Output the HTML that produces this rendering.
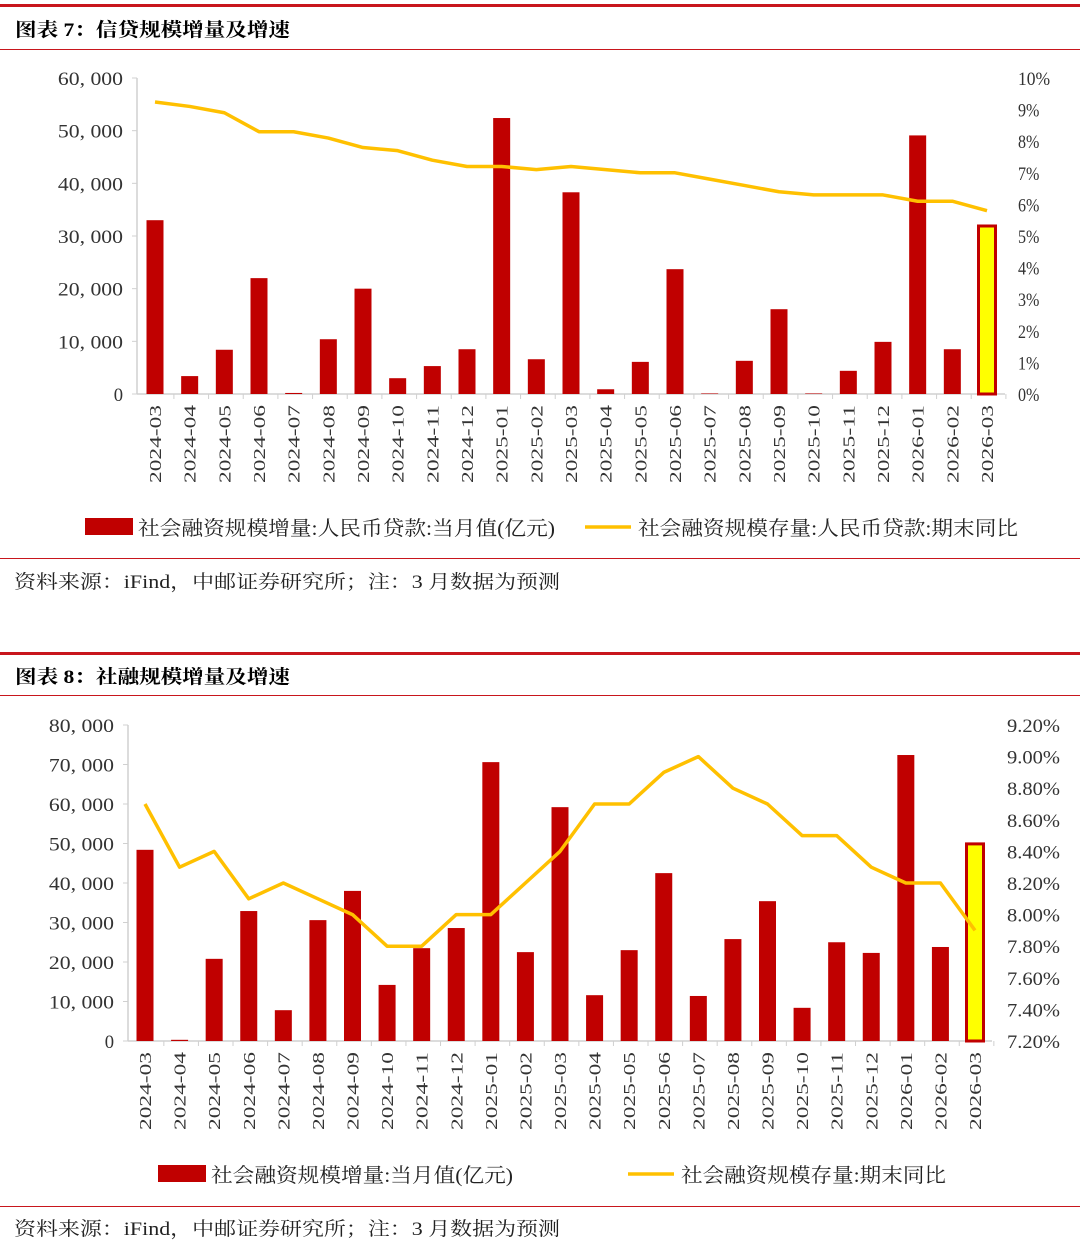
<!DOCTYPE html>
<html><head><meta charset="utf-8"><style>
body{margin:0;background:#fff;width:1080px;height:1250px;overflow:hidden}
svg{display:block}
</style></head><body>
<svg id="s" width="1080" height="1250" xmlns="http://www.w3.org/2000/svg" font-family="'Liberation Serif','Noto Serif CJK SC',serif">
<rect x="0" y="4" width="1080" height="3" fill="#c8161d"/>
<text x="15" y="36" font-size="19" font-weight="bold" textLength="275" lengthAdjust="spacingAndGlyphs" font-family="'Liberation Serif','Noto Serif CJK SC',serif">图表 7：信贷规模增量及增速</text>
<rect x="0" y="49" width="1080" height="1" fill="#c8161d"/>
<rect x="0" y="558" width="1080" height="1" fill="#c8161d"/>
<text x="14" y="588" font-size="19" textLength="546" lengthAdjust="spacingAndGlyphs" font-family="'Liberation Serif','Noto Serif CJK SC',serif" fill="#222">资料来源：iFind，中邮证券研究所；注：3 月数据为预测</text>
<rect x="0" y="652" width="1080" height="3" fill="#c8161d"/>
<text x="15" y="683" font-size="19" font-weight="bold" textLength="275" lengthAdjust="spacingAndGlyphs" font-family="'Liberation Serif','Noto Serif CJK SC',serif">图表 8：社融规模增量及增速</text>
<rect x="0" y="695" width="1080" height="1" fill="#c8161d"/>
<rect x="0" y="1206" width="1080" height="1" fill="#c8161d"/>
<text x="14" y="1235" font-size="19" textLength="546" lengthAdjust="spacingAndGlyphs" font-family="'Liberation Serif','Noto Serif CJK SC',serif" fill="#222">资料来源：iFind，中邮证券研究所；注：3 月数据为预测</text>
<g id="c1"></g><g id="c2"></g>
</svg>
<script>
const cats=["2024-03","2024-04","2024-05","2024-06","2024-07","2024-08","2024-09","2024-10","2024-11","2024-12","2025-01","2025-02","2025-03","2025-04","2025-05","2025-06","2025-07","2025-08","2025-09","2025-10","2025-11","2025-12","2026-01","2026-02","2026-03"];
const loanBars=[33000,3400,8400,22000,200,10400,20000,3000,5300,8500,52400,6600,38300,900,6100,23700,100,6300,16100,100,4400,9900,49100,8500,31900];
const loanYoY=[9.24,9.1,8.9,8.3,8.3,8.1,7.8,7.7,7.4,7.2,7.2,7.1,7.2,7.1,7.0,7.0,6.8,6.6,6.4,6.3,6.3,6.3,6.1,6.1,5.8];
const tsfBars=[48400,300,20800,32900,7800,30600,38000,14200,23500,28600,70600,22500,59200,11600,23000,42500,11400,25800,35400,8400,25000,22300,72400,23800,49900];
const tsfYoY=[8.7,8.3,8.4,8.1,8.2,8.1,8.0,7.8,7.8,8.0,8.0,8.2,8.4,8.7,8.7,8.9,9.0,8.8,8.7,8.5,8.5,8.3,8.2,8.2,7.9];
const leftTicks1=[0,10000,20000,30000,40000,50000,60000];
const rightTicks1=[0,1,2,3,4,5,6,7,8,9,10];
const leftTicks2=[0,10000,20000,30000,40000,50000,60000,70000,80000];
const rightTicks2=[7.2,7.4,7.6,7.8,8.0,8.2,8.4,8.6,8.8,9.0,9.2];
const NS="http://www.w3.org/2000/svg";
function mk(p,t,a,txt){const e=document.createElementNS(NS,t);for(const k in a)e.setAttribute(k,a[k]);if(txt!==undefined)e.textContent=txt;p.appendChild(e);return e;}
function fmt(v){return v===0?"0":v.toLocaleString("en-US").replace(",",", ");}
function draw(g,o){
 const y=v=>o.y0-(v-o.lmin)/(o.lmax-o.lmin)*(o.y0-o.y1);
 const yr=v=>o.y0-(v-o.rmin)/(o.rmax-o.rmin)*(o.y0-o.y1);
 const x=i=>o.x0+i*(o.x1-o.x0)/(cats.length-1);
 const ax=mk(g,"line",{x1:o.ax,y1:o.y1,x2:o.ax,y2:o.y0,stroke:"#d0d0d0","stroke-width":1.5});
 
 
 const xa=mk(g,"line",{x1:o.ax,y1:o.y0,x2:o.axr,y2:o.y0,stroke:"#d0d0d0","stroke-width":1.5});
 
 
 o.lt.forEach(v=>{mk(g,"line",{x1:o.ax-5,x2:o.ax,y1:y(v),y2:y(v),stroke:"#d0d0d0"});
  const s=fmt(v);
  const t=mk(g,"text",{x:o.ax-14,y:y(v)+7,"text-anchor":"end","font-size":19,fill:"#333",textLength:s.length*9.3,lengthAdjust:"spacingAndGlyphs"},s);
  
  });
 o.rt.forEach(v=>{const s=o.rf(v);
  const t=mk(g,"text",{x:o.rx,y:yr(v)+7,"text-anchor":"start","font-size":19,fill:"#333",textLength:s.length*o.rw,lengthAdjust:"spacingAndGlyphs"},s);
  
  });
 cats.forEach((c,i)=>{mk(g,"line",{x1:x(i)+o.dx/2,x2:x(i)+o.dx/2,y1:o.y0,y2:o.y0+5,stroke:"#d0d0d0"});
  const t=mk(g,"text",{transform:`translate(${x(i)+6},${o.y0+11}) rotate(-90)`,"text-anchor":"end","font-size":17,fill:"#333",textLength:78,lengthAdjust:"spacingAndGlyphs"},c);
  
  });
 o.bars.forEach((v,i)=>{const last=i===o.bars.length-1;
  const r=mk(g,"rect",{x:x(i)-8.5,y:y(v),width:17,height:o.y0-y(v),fill:last?"#ffff00":"#c00000",stroke:last?"#c00000":"none","stroke-width":last?3:0});
  
  });
 const pl=mk(g,"polyline",{points:o.line.map((v,i)=>x(i)+","+yr(v)).join(" "),fill:"none",stroke:"#ffc000","stroke-width":3.5,"stroke-linejoin":"round"});
 
 
 const lb=mk(g,"rect",{x:o.lg[0],y:o.lg[2]-17,width:48,height:17,fill:"#c00000"});
 
 
 const t1=mk(g,"text",{x:o.lg[0]+53,y:o.lg[2],"font-size":20,fill:"#222",textLength:o.lw[0],lengthAdjust:"spacingAndGlyphs"},o.n1);
 
 
 const ll=mk(g,"line",{x1:o.lg[1],x2:o.lg[1]+46,y1:o.lg[2]-8,y2:o.lg[2]-8,stroke:"#ffc000","stroke-width":3.5});
 
 
 const t2=mk(g,"text",{x:o.lg[1]+53,y:o.lg[2],"font-size":20,fill:"#222",textLength:o.lw[1],lengthAdjust:"spacingAndGlyphs"},o.n2);
 
 
}
draw(document.getElementById("c1"),{y0:394,y1:78,lmin:0,lmax:60000,rmin:0,rmax:10,x0:155,x1:987,ax:137,axr:1005,rx:1018,rw:10.7,dx:37.8,
 lt:leftTicks1,rt:rightTicks1,rf:v=>v+"%",bars:loanBars,line:loanYoY,lg:[85,585,535],lw:[417,380],
 n1:"社会融资规模增量:人民币贷款:当月值(亿元)",n2:"社会融资规模存量:人民币贷款:期末同比"});
draw(document.getElementById("c2"),{y0:1041,y1:725,lmin:0,lmax:80000,rmin:7.2,rmax:9.2,x0:145,x1:975,ax:128,axr:992,rx:1007,rw:10.6,dx:37.7,
 lt:leftTicks2,rt:rightTicks2,rf:v=>v.toFixed(2)+"%",bars:tsfBars,line:tsfYoY,lg:[158,628,1182],lw:[302,265],
 n1:"社会融资规模增量:当月值(亿元)",n2:"社会融资规模存量:期末同比"});
</script>
</body></html>
